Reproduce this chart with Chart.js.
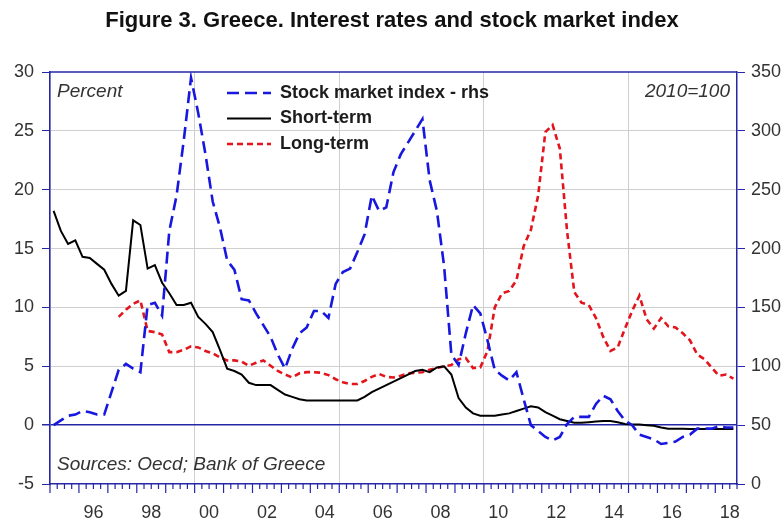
<!DOCTYPE html>
<html>
<head>
<meta charset="utf-8">
<script src="https://cdn.jsdelivr.net/npm/chart.js@4.4.1/dist/chart.umd.min.js"></script>
<style>
  html, body { margin: 0; padding: 0; background: #fff; }
  #wrap { width: 784px; height: 523px; }
</style>
</head>
<body>
<div id="wrap"><canvas id="chart" width="784" height="523"></canvas></div>
<script>
// quarterly, 1995Q1 - 2018Q3
const quarterLabels = [];
for (let y = 1995; y <= 2018; y++) {
    for (let q = 1; q <= 4; q++) {
        if (y === 2018 && q > 3) break;
        quarterLabels.push(y + 'Q' + q);
    }
}

// percent, lhs
const shortTerm = [
    18.2, 16.5, 15.4, 15.7,   14.3, 14.2, 13.7, 13.2,   12.0, 11.0, 11.4, 17.4,
    17.0, 13.3, 13.6, 12.1,   11.2, 10.2, 10.2, 10.4,   9.2, 8.6, 7.9, 6.4,
    4.8, 4.6, 4.3, 3.6,       3.4, 3.4, 3.4, 3.0,       2.6, 2.4, 2.2, 2.1,
    2.1, 2.1, 2.1, 2.1,       2.1, 2.1, 2.1, 2.4,       2.8, 3.1, 3.4, 3.7,
    4.0, 4.3, 4.6, 4.7,       4.5, 4.9, 5.0, 4.3,       2.3, 1.5, 1.0, 0.8,
    0.8, 0.8, 0.9, 1.0,       1.2, 1.4, 1.6, 1.5,       1.1, 0.8, 0.5, 0.35,
    0.2, 0.2, 0.25, 0.3,      0.35, 0.35, 0.25, 0.1,    0.05, 0.05, 0.0, -0.05,
    -0.2, -0.3, -0.3, -0.3,   -0.33, -0.33, -0.33, -0.33,
    -0.33, -0.33, -0.33
];
const longTerm = [
    null, null, null, null,   null, null, null, null,   null, 9.2, 9.8, 10.3,
    10.6, 8.0, 7.9, 7.7,      6.2, 6.2, 6.4, 6.7,       6.6, 6.3, 6.1, 5.75,
    5.5, 5.5, 5.4, 5.05,      5.3, 5.5, 5.05, 4.6,      4.3, 4.05, 4.4, 4.5,
    4.5, 4.45, 4.25, 3.9,     3.65, 3.5, 3.5, 3.75,     4.1, 4.35, 4.1, 4.05,
    4.2, 4.4, 4.45, 4.5,      4.7, 4.85, 5.0, 5.1,      5.6, 5.7, 4.85, 4.9,
    6.3, 10.0, 11.2, 11.4,    12.3, 15.2, 16.6, 19.5,   24.9, 25.5, 23.5, 16.5,
    11.3, 10.4, 10.2, 9.1,    7.5, 6.3, 6.6, 8.2,       9.7, 11.0, 9.0, 8.2,
    9.1, 8.4, 8.3, 7.8,       7.2, 6.0, 5.6, 4.9,
    4.2, 4.3, 3.95
];
// 2010=100, rhs
const stockIndex = [
    50, 54, 58, 59,      62, 61, 59, 59,      78, 97, 102, 98,
    95, 152, 154, 143,   215, 245, 292, 345,  315, 280, 240, 218,
    190, 182, 157, 156,  145, 135, 125, 110,  98, 115, 128, 133,
    147, 147, 141, 170,  180, 183, 197, 212,  245, 232, 235, 265,
    280, 290, 300, 310,  258, 232, 185, 110,  101, 128, 152, 145,
    122, 97, 92, 88,     95, 72, 50, 45,      40, 37, 40, 51,
    57, 57, 57, 68,      75, 72, 62, 54,      50, 42, 40, 38,
    34, 35, 36, 40,      42, 47, 47, 47,
    49, 48, 48
];

const leftTicks = [-5, 0, 5, 10, 15, 20, 25, 30];
const rightTicks = [0, 50, 100, 150, 200, 250, 300, 350];

const frameBlue = '#2626a8';
const gridGrey = '#cfcfcf';
const labelFont = { family: 'Liberation Sans, Arial, sans-serif', size: 18 };

const decorations = {
    id: 'decorations',
    afterDraw(chart) {
        const ctx = chart.ctx;
        const area = chart.chartArea;
        const xs = chart.scales.x;
        ctx.save();

        // top frame line
        ctx.strokeStyle = frameBlue;
        ctx.lineWidth = 1.5;
        ctx.beginPath();
        ctx.moveTo(area.left, area.top);
        ctx.lineTo(area.right, area.top);
        ctx.stroke();

        // quarter / year tick marks
        const half = (xs.getPixelForValue(1) - xs.getPixelForValue(0)) / 2;
        ctx.lineWidth = 1.2;
        for (let i = 0; i <= quarterLabels.length; i++) {
            const px = xs.getPixelForValue(i) - half;
            const lab = quarterLabels[i];
            const len = lab && lab.endsWith('Q1') ? 9 : 5;
            ctx.beginPath();
            ctx.moveTo(px, area.bottom);
            ctx.lineTo(px, area.bottom + len);
            ctx.stroke();
        }

        // notes
        ctx.fillStyle = '#333';
        ctx.font = 'italic 19px Liberation Sans, Arial, sans-serif';
        ctx.textBaseline = 'middle';
        ctx.textAlign = 'left';
        ctx.fillText('Percent', area.left + 7, area.top + 20);
        ctx.fillText('Sources: Oecd; Bank of Greece', area.left + 7, area.bottom - 19);
        ctx.textAlign = 'right';
        ctx.fillText('2010=100', area.right - 7, area.top + 20);

        // legend
        const rows = [0, 1, 2];
        rows.forEach((di, k) => {
            const ds = chart.data.datasets[di];
            const y = area.top + 21 + k * 25.5;
            ctx.strokeStyle = ds.borderColor;
            ctx.lineWidth = ds.borderWidth;
            ctx.setLineDash(ds.borderDash || []);
            ctx.beginPath();
            ctx.moveTo(227, y);
            ctx.lineTo(271, y);
            ctx.stroke();
            ctx.setLineDash([]);
            ctx.fillStyle = '#1c1c1c';
            ctx.font = 'bold 18px Liberation Sans, Arial, sans-serif';
            ctx.textAlign = 'left';
            ctx.fillText(ds.label, 280, y);
        });
        ctx.restore();
    }
};

new Chart(document.getElementById('chart'), {
    type: 'line',
    data: {
        labels: quarterLabels,
        datasets: [
            {
                label: 'Stock market index - rhs',
                data: stockIndex,
                yAxisID: 'y2',
                borderColor: '#1717e0',
                borderWidth: 2.6,
                borderDash: [12, 6],
                pointRadius: 0,
                tension: 0,
                fill: false
            },
            {
                label: 'Short-term',
                data: shortTerm,
                yAxisID: 'y',
                borderColor: '#000000',
                borderWidth: 2,
                pointRadius: 0,
                tension: 0,
                fill: false
            },
            {
                label: 'Long-term',
                data: longTerm,
                yAxisID: 'y',
                borderColor: '#e3141c',
                borderWidth: 2.6,
                borderDash: [6, 4],
                pointRadius: 0,
                tension: 0,
                fill: false
            }
        ]
    },
    options: {
        responsive: false,
        animation: false,
        plugins: {
            legend: { display: false },
            tooltip: { enabled: false },
            title: {
                display: true,
                text: 'Figure 3. Greece. Interest rates and stock market index',
                color: '#111',
                font: { family: 'Liberation Sans, Arial, sans-serif', size: 22, weight: 'bold' },
                padding: { top: 8, bottom: 37.6 }
            }
        },
        scales: {
            x: {
                type: 'category',
                offset: true,
                afterFit(scale) { scale.height = 39; },
                grid: {
                    offset: true,
                    drawTicks: false,
                    lineWidth: 1,
                    color(ctx) {
                        const lab = quarterLabels[ctx.index];
                        if (lab && lab.endsWith('Q1') && Number(lab.slice(0, 4)) % 5 === 0) return gridGrey;
                        return 'rgba(0,0,0,0)';
                    }
                },
                border: { color: frameBlue, width: 1.5 },
                ticks: {
                    autoSkip: false,
                    maxRotation: 0,
                    padding: 18,
                    labelOffset: -3.6,
                    color: '#333',
                    font: labelFont,
                    callback(val) {
                        const lab = quarterLabels[val];
                        const yr = Number(lab.slice(0, 4));
                        if (lab.endsWith('Q3') && yr % 2 === 0) return lab.slice(2, 4);
                        return '';
                    }
                }
            },
            y: {
                position: 'left',
                min: -5,
                max: 30,
                afterFit(scale) { scale.width = 50; },
                afterBuildTicks(scale) { scale.ticks = leftTicks.map(v => ({ value: v })); },
                grid: {
                    tickLength: 8,
                    tickColor: frameBlue,
                    lineWidth(ctx) { return ctx.tick && ctx.tick.value === 0 ? 1.5 : 1; },
                    color(ctx) {
                        const v = ctx.tick ? ctx.tick.value : null;
                        if (v === 0) return frameBlue;
                        if (v === -5 || v === 30) return 'rgba(0,0,0,0)';
                        return gridGrey;
                    }
                },
                border: { color: frameBlue, width: 1.5 },
                ticks: { padding: 8, color: '#333', font: labelFont }
            },
            y2: {
                position: 'right',
                min: 0,
                max: 350,
                afterFit(scale) { scale.width = 47; },
                afterBuildTicks(scale) { scale.ticks = rightTicks.map(v => ({ value: v })); },
                grid: {
                    drawOnChartArea: false,
                    tickLength: 8,
                    tickColor: frameBlue,
                    color: frameBlue
                },
                border: { color: frameBlue, width: 1.5 },
                ticks: { padding: 6, color: '#333', font: labelFont }
            }
        }
    },
    plugins: [decorations]
});
</script>
</body>
</html>
